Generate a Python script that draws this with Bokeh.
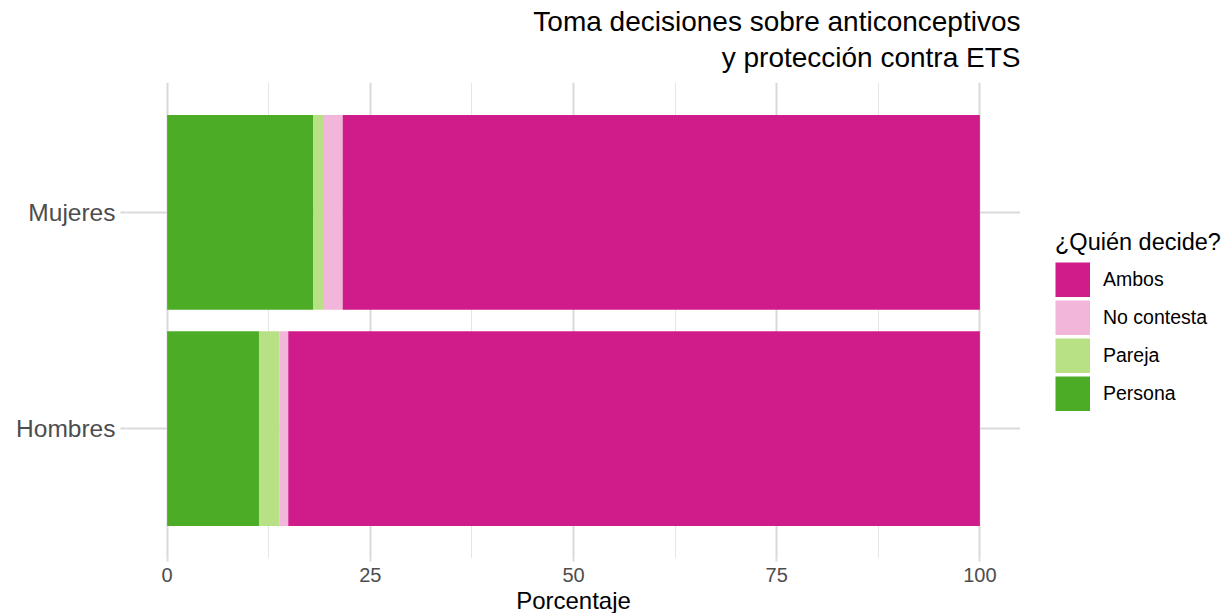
from bokeh.plotting import figure
from bokeh.layouts import row
from bokeh.models import (FactorRange, Range1d, Legend, LegendItem, Title,
                          FixedTicker, ColumnDataSource)
from bokeh.embed import file_html
from bokeh.resources import INLINE

# ---- data ----
grupos = ["Hombres", "Mujeres"]
respuestas = ["Persona", "Pareja", "No contesta", "Ambos"]
persona = [11.3, 18.0]
pareja = [2.5, 1.3]
no_contesta = [1.1, 2.3]
ambos = [85.1, 78.4]
colores = ["#4dac26", "#b8e186", "#f1b6da", "#d01c8b"]
orden_leyenda = ["Ambos", "No contesta", "Pareja", "Persona"]
ticks_x = [0, 25, 50, 75, 100]
ticks_x_menores = [12.5, 37.5, 62.5, 87.5]
titulo_1 = "Toma decisiones sobre anticonceptivos"
titulo_2 = "y protección contra ETS"

FONT = "Liberation Sans"
GRID = "#d9d9d9"

src = ColumnDataSource(data={
    "grupo": grupos,
    "Persona": persona,
    "Pareja": pareja,
    "No contesta": no_contesta,
    "Ambos": ambos,
})

p = figure(
    frame_width=894, frame_height=476,
    y_range=FactorRange(factors=grupos, range_padding=0.1,
                        range_padding_units="absolute"),
    x_range=Range1d(-5, 105),
    output_backend="svg", toolbar_location=None,
    min_border_left=126, min_border_right=0,
    min_border_top=82, min_border_bottom=55,
)
p.outline_line_color = None
p.background_fill_color = "white"

rs = p.hbar_stack(respuestas, y="grupo", height=0.9, color=colores,
                  source=src, line_color=None)

# titles (second line added first -> closest to the plot)
p.add_layout(Title(text=titulo_2, align="right", text_font=FONT,
                   text_font_size="28px", text_font_style="normal",
                   text_line_height=1.0,
                   text_color="black", standoff=19), "above")
p.add_layout(Title(text=titulo_1, align="right", text_font=FONT,
                   text_font_size="28px", text_font_style="normal",
                   text_line_height=1.0,
                   text_color="black", standoff=-13), "above")

# axes
p.axis.axis_line_color = None
p.xaxis.ticker = FixedTicker(ticks=ticks_x, minor_ticks=ticks_x_menores)
p.xaxis.minor_tick_line_color = None
p.xaxis.major_tick_in = 0
p.xaxis.major_tick_out = 3
p.xaxis.major_tick_line_color = GRID
p.xaxis.major_tick_line_width = 2
p.xaxis.major_label_text_font = FONT
p.xaxis.major_label_text_font_size = "20px"
p.xaxis.major_label_text_color = "#4d4d4d"
p.xaxis.major_label_standoff = 5
p.xaxis.axis_label = "Porcentaje"
p.xaxis.axis_label_text_font = FONT
p.xaxis.axis_label_text_font_size = "24px"
p.xaxis.axis_label_text_font_style = "normal"
p.xaxis.axis_label_text_color = "black"
p.xaxis.axis_label_standoff = 2

p.yaxis.major_tick_in = 0
p.yaxis.major_tick_out = 6
p.yaxis.major_tick_line_color = GRID
p.yaxis.major_tick_line_width = 2
p.yaxis.major_label_text_font = FONT
p.yaxis.major_label_text_font_size = "24.5px"
p.yaxis.major_label_text_color = "#4d4d4d"
p.yaxis.major_label_standoff = 5

# grids
p.xgrid.grid_line_color = GRID
p.xgrid.grid_line_width = 2
p.xgrid.minor_grid_line_color = "#e6e6e6"
p.xgrid.minor_grid_line_width = 1
p.ygrid.grid_line_color = GRID
p.ygrid.grid_line_width = 2

# ---- legend panel (separate figure to the right) ----
lf = figure(width=203, height=613, output_backend="svg", toolbar_location=None,
            x_axis_type=None, y_axis_type=None, min_border=0,
            x_range=Range1d(0, 1), y_range=Range1d(0, 1))
lf.outline_line_color = None
lf.grid.visible = False

# legend swatches: single-point lines (draw nothing), shown as thick squares
swatch = {}
for name, col in zip(respuestas, colores):
    swatch[name] = lf.line(x=[0], y=[0], line_color=col,
                           line_width=35, line_cap="butt")

legend = Legend(
    items=[LegendItem(label=k, renderers=[swatch[k]]) for k in orden_leyenda],
    location=(35, 144),
    title="¿Quién decide?", title_text_font=FONT, title_text_font_size="23.5px",
    title_text_font_style="normal", title_text_color="black", title_standoff=6,
    label_text_font=FONT, label_text_font_size="19.5px", label_text_color="black",
    glyph_width=35, glyph_height=35, spacing=3, label_standoff=13,
    padding=0, margin=0, border_line_color=None, background_fill_alpha=0,
)
lf.add_layout(legend)

layout = row(p, lf, spacing=0)

open("out.html", "w").write(file_html(layout, INLINE))
